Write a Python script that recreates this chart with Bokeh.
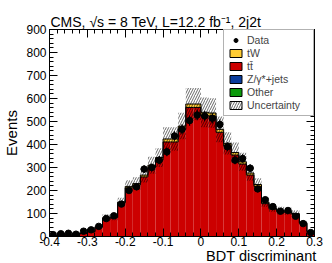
import numpy as np
from bokeh.plotting import figure
from bokeh.models import (Legend, LegendItem, LinearAxis, Range1d, Title, FixedTicker,
                          SingleIntervalTicker, NumeralTickFormatter, CustomJSTickFormatter)
from bokeh.embed import file_html
from bokeh.resources import INLINE

# ---- binning (BDT discriminant) ----
bin_low = -0.40
bin_high = 0.30
n_bins = 35

# ---- axis ticks ----
x_major_ticks = [-0.4, -0.3, -0.2, -0.1, 0.0, 0.1, 0.2, 0.3]
x_minor_step = 0.02

# ---- values ----
data_counts = [8, 12, 14, 10, 23, 29, 44, 78, 90, 141, 200, 216, 293, 300, 332,
               368, 437, 466, 504, 528, 524, 514, 487, 390, 332, 339, 297, 207,
               160, 130, 110, 113, 88, 56, 17]
ttbar = [4, 5, 6, 8, 13, 21, 40, 79, 80, 144, 209, 221, 257, 298, 330, 409, 409,
         464, 559, 559, 524, 521, 451, 391, 352, 313, 265, 217, 142, 119, 108,
         105, 96, 57, 21]
tw = [0, 0, 0, 0, 1, 1, 2, 3, 3, 5, 7, 7, 8, 10, 11, 13, 13, 14, 15, 15, 14, 14,
      13, 12, 11, 10, 9, 8, 6, 5, 5, 5, 4, 3, 1]
zjets = [0, 0, 0, 0, 0, 0, 0, 0, 1, 1, 1, 1, 1, 1, 1, 1, 1, 1, 1, 1, 1, 1, 1, 1,
         1, 1, 1, 1, 1, 0, 0, 0, 0, 0, 0]
other = [0, 0, 0, 0, 0, 0, 0, 0, 0, 0, 1, 1, 1, 1, 1, 1, 1, 1, 1, 1, 1, 1, 1, 1,
         1, 1, 1, 0, 0, 0, 0, 0, 0, 0, 0]
unc_rel = [0.20, 0.20, 0.20, 0.20, 0.20, 0.20, 0.18, 0.18, 0.16, 0.12, 0.12,
           0.12, 0.12, 0.12, 0.12, 0.12, 0.12, 0.12, 0.12, 0.12, 0.12, 0.12,
           0.12, 0.12, 0.12, 0.12, 0.12, 0.12, 0.13, 0.13, 0.14, 0.14, 0.14,
           0.15, 0.20]

title_text = "CMS, \u221as = 8 TeV, L=12.2 fb\u207b\u00b9, 2j2t"
x_title = "BDT discriminant"
y_title = "Events"
legend_labels = ["Data", "tW", "t\u0074\u0304", "Z/\u03b3*+jets", "Other", "Uncertainty"]

c_tw = "#FFCC33"
c_tt = "#CC0000"
c_z = "#0A3C9C"
c_other = "#0C9A0C"
FONT = "Liberation Sans"

# ---- derived stacking ----
edges = np.linspace(bin_low, bin_high, n_bins + 1)
left, right = edges[:-1], edges[1:]
centers = 0.5 * (left + right)
a_other = np.array(other, float)
a_z = a_other + np.array(zjets, float)
a_tt = a_z + np.array(ttbar, float)
a_tot = a_tt + np.array(tw, float)
unc = np.array(unc_rel)
dat = np.array(data_counts, float)
err = np.sqrt(dat)

x_minor_ticks = [round(v, 4) for v in
                 np.arange(bin_low, bin_high + x_minor_step / 2, x_minor_step)]

W, H = 332, 263
p = figure(width=W, height=H, x_range=Range1d(bin_low, bin_high), y_range=Range1d(0, 900),
           output_backend="svg", toolbar_location=None,
           min_border_left=44, min_border_right=18, min_border_top=29, min_border_bottom=27)
p.grid.visible = False
p.outline_line_color = "black"
p.background_fill_color = "white"
p.border_fill_color = "white"

# title
p.title.text = title_text
p.title.text_font = FONT
p.title.text_font_size = "14px"
p.title.text_font_style = "normal"
p.title.text_color = "black"
p.title.align = "left"
p.title.offset = 1
p.title.standoff = -1

# stack
p.quad(left=left, right=right, bottom=0, top=a_other, fill_color=c_other, line_color=None)
p.quad(left=left, right=right, bottom=a_other, top=a_z, fill_color=c_z, line_color=None)
p.quad(left=left, right=right, bottom=a_z, top=a_tt, fill_color=c_tt, line_color=None)
p.quad(left=left, right=right, bottom=a_tt, top=a_tot, fill_color=c_tw, line_color=None)
p.step(x=edges, y=np.append(a_tt, a_tt[-1]), mode="after", line_color="black", line_width=1)
p.step(x=edges, y=np.append(a_tot, a_tot[-1]), mode="after", line_color="black", line_width=1)

# uncertainty band
HATCH = dict(hatch_pattern="/", hatch_color="black", hatch_scale=5, hatch_weight=0.6)
p.quad(left=left, right=right, bottom=a_tot * (1 - unc), top=a_tot * (1 + unc),
       fill_alpha=0, line_alpha=0, **HATCH)

# data
p.segment(x0=centers, y0=dat - err, x1=centers, y1=dat + err, line_color="black", line_width=1.2)
p.scatter(x=centers, y=dat, size=6.5, fill_color="black", line_color="black")

# legend proxies (hidden renderers, used only for legend swatches)
def proxy_quad(**kw):
    r = p.quad(left=left[:1], right=right[:1], top=a_tot[:1], bottom=a_other[:1],
               line_color="black", **kw)
    r.visible = False
    return r

r_data = p.scatter(x=centers[:1], y=dat[:1], size=6.5, fill_color="black", line_color="black")
r_data.visible = False
r_tw = proxy_quad(fill_color=c_tw)
r_tt = proxy_quad(fill_color=c_tt)
r_z = proxy_quad(fill_color=c_z)
r_o = proxy_quad(fill_color=c_other)
r_u = proxy_quad(fill_color="white", **HATCH)
items = [LegendItem(label=l, renderers=[r]) for l, r in
         zip(legend_labels, [r_data, r_tw, r_tt, r_z, r_o, r_u])]
leg = Legend(items=items, location="top_right", margin=0, padding=4, spacing=1,
             label_height=11, label_width=62, glyph_height=10, glyph_width=15,
             label_standoff=4, label_text_font=FONT, label_text_font_size="10.5px",
             border_line_color="#666666", border_line_width=1,
             background_fill_color="white", background_fill_alpha=1)
p.add_layout(leg, "center")

# axes
def style_axis(ax, ticker, show_labels):
    ax.ticker = ticker
    ax.major_tick_in = 8
    ax.major_tick_out = 0
    ax.minor_tick_in = 4
    ax.minor_tick_out = 0
    ax.axis_line_color = "black"
    ax.major_tick_line_color = "black"
    ax.minor_tick_line_color = "black"
    ax.major_label_text_font = FONT
    ax.major_label_text_color = "black"
    if show_labels:
        ax.major_label_text_font_size = "12px"
        ax.major_label_standoff = 2
    else:
        ax.formatter = CustomJSTickFormatter(code="return ''")
        ax.major_label_text_font_size = "1px"
        ax.major_label_standoff = 0

def x_ticker():
    return FixedTicker(ticks=x_major_ticks, minor_ticks=x_minor_ticks)

xa = p.xaxis[0]
ya = p.yaxis[0]
style_axis(xa, x_ticker(), True)
xa.formatter = NumeralTickFormatter(format="0.[0]")
xa.major_label_standoff = 0
style_axis(ya, SingleIntervalTicker(interval=100, num_minor_ticks=5), True)

# x-axis title, right-aligned below the axis
p.add_layout(Title(text=x_title, align="right", offset=-2, standoff=-5,
                   text_font=FONT, text_font_size="14.5px", text_font_style="normal",
                   text_color="black"), "below")

ya.axis_label = y_title
ya.axis_label_text_font = FONT
ya.axis_label_text_font_size = "15px"
ya.axis_label_text_font_style = "normal"
ya.axis_label_text_color = "black"
ya.axis_label_standoff = 3
ya.major_label_standoff = 3

ax_r = LinearAxis()
style_axis(ax_r, SingleIntervalTicker(interval=100, num_minor_ticks=5), False)
p.add_layout(ax_r, "right")
ax_t = LinearAxis()
style_axis(ax_t, x_ticker(), False)
p.add_layout(ax_t, "above")

open("out.html", "w").write(file_html(p, INLINE))
